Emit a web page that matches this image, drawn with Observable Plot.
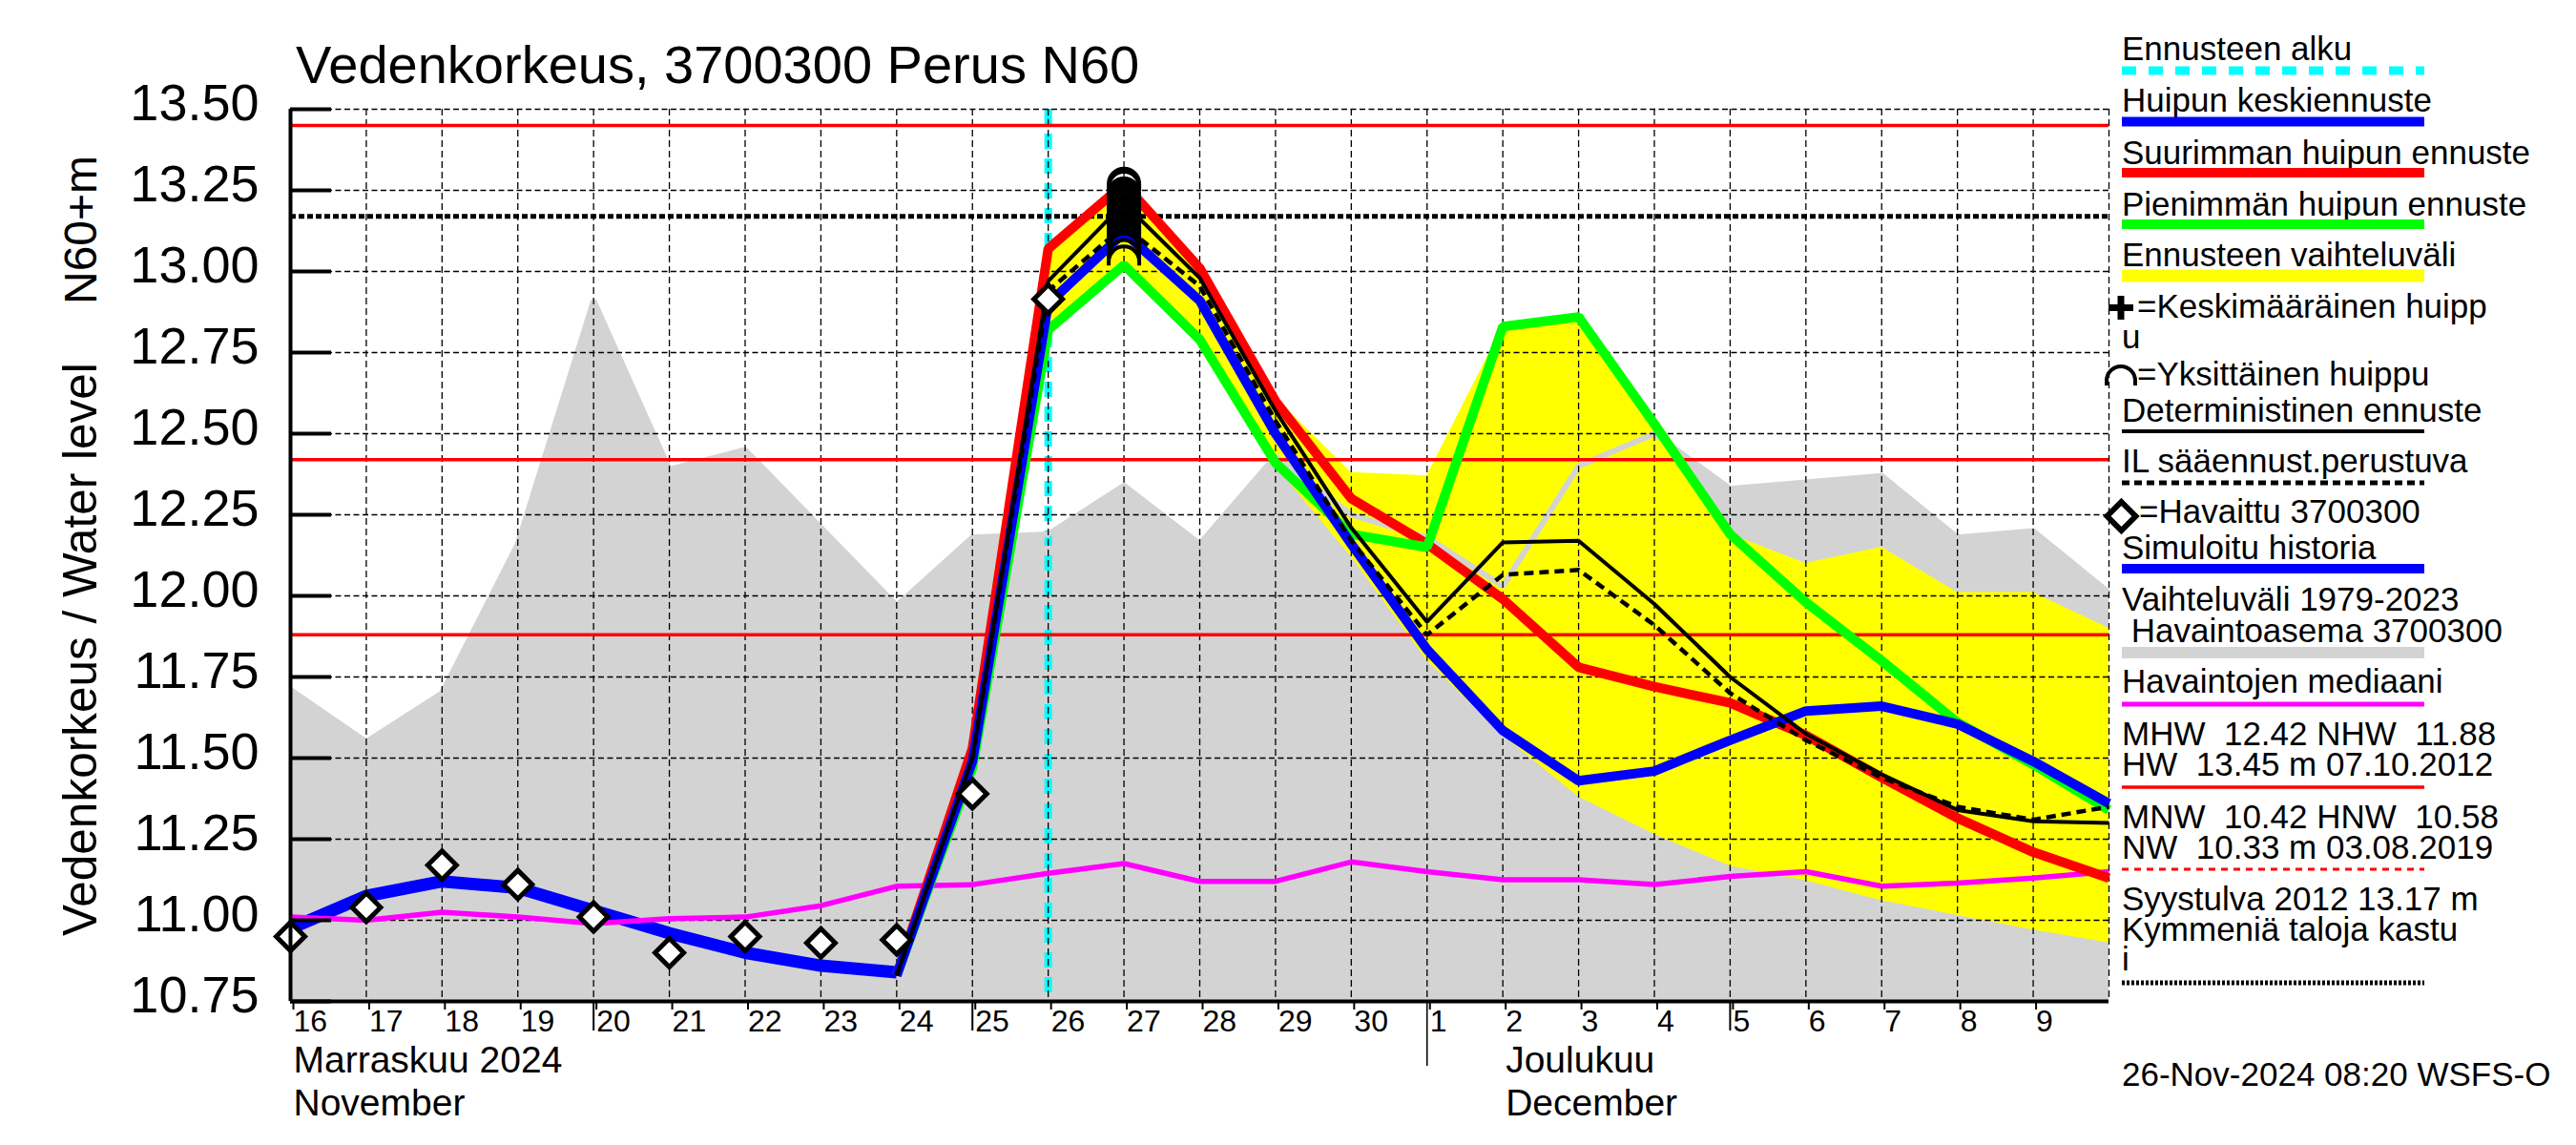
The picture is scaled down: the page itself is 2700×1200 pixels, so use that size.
<!DOCTYPE html>
<html><head><meta charset="utf-8">
<script src="https://cdn.jsdelivr.net/npm/d3@7"></script>
<script src="https://cdn.jsdelivr.net/npm/@observablehq/plot@0.6"></script>
<style>
html,body{margin:0;padding:0;background:#fff;}
#wrap{position:relative;width:2700px;height:1200px;overflow:hidden;background:#fff;}
#wrap > svg{position:absolute;left:0;top:0;}
</style></head>
<body><div id="wrap"></div>
<script>
// ---------- data ----------
const histDays = ["2024-11-16","2024-11-17","2024-11-18","2024-11-19","2024-11-20","2024-11-21","2024-11-22","2024-11-23","2024-11-24","2024-11-25","2024-11-26","2024-11-27","2024-11-28","2024-11-29","2024-11-30","2024-12-01","2024-12-02","2024-12-03","2024-12-04","2024-12-05","2024-12-06","2024-12-07","2024-12-08","2024-12-09","2024-12-10"];
const histMax = [11.71,11.55,11.70,12.16,12.91,12.39,12.45,12.21,11.97,12.18,12.19,12.34,12.16,12.43,12.25,12.18,12.03,12.40,12.50,12.33,12.35,12.37,12.18,12.20,12.01];
const median  = [11.01,11.00,11.025,11.01,10.99,11.005,11.01,11.045,11.105,11.11,11.145,11.175,11.12,11.12,11.18,11.15,11.125,11.125,11.11,11.135,11.15,11.105,11.115,11.13,11.15];

const simDays = ["2024-11-16","2024-11-17","2024-11-18","2024-11-19","2024-11-20","2024-11-21","2024-11-22","2024-11-23","2024-11-24"];
const simulated = [10.975,11.075,11.12,11.10,11.03,10.96,10.90,10.86,10.84];

const obsDays = ["2024-11-16","2024-11-17","2024-11-18","2024-11-19","2024-11-20","2024-11-21","2024-11-22","2024-11-23","2024-11-24","2024-11-25","2024-11-26"];
const observed = [10.95,11.04,11.17,11.11,11.01,10.90,10.95,10.93,10.94,11.39,12.915];

const fcDays = ["2024-11-24","2024-11-25","2024-11-26","2024-11-27","2024-11-28","2024-11-29","2024-11-30","2024-12-01","2024-12-02","2024-12-03","2024-12-04","2024-12-05","2024-12-06","2024-12-07","2024-12-08","2024-12-09","2024-12-10"];
const fcHigh  = [10.83,11.53,13.08,13.28,13.02,12.61,12.38,12.37,12.83,12.86,12.53,12.19,12.10,12.15,12.01,12.01,11.90];
const fcLow   = [10.83,11.47,12.81,13.01,12.78,12.40,12.12,11.80,11.57,11.38,11.265,11.167,11.122,11.06,11.015,10.97,10.93];
const peakMax = [10.83,11.53,13.07,13.27,13.01,12.60,12.30,12.16,11.99,11.78,11.72,11.67,11.57,11.44,11.315,11.21,11.13];
const peakMin = [10.83,11.47,12.82,13.02,12.79,12.41,12.19,12.15,12.83,12.86,12.53,12.19,11.98,11.80,11.61,11.48,11.34];
const peakMean= [10.83,11.49,12.90,13.12,12.91,12.50,12.16,11.835,11.585,11.43,11.46,11.555,11.645,11.66,11.605,11.49,11.36];
const deterministic = [10.83,11.50,12.97,13.21,12.98,12.57,12.21,11.92,12.165,12.17,11.975,11.75,11.575,11.45,11.34,11.305,11.30];
const ilForecast    = [10.83,11.50,12.94,13.14,12.955,12.54,12.17,11.88,12.065,12.08,11.91,11.70,11.555,11.44,11.35,11.31,11.35];

const peakDay = "2024-11-27";
const singlePeaks = [13.27,13.26,13.24,13.23,13.22,13.21,13.20,13.19,13.18,13.17,13.16,13.15,13.14,13.13,13.12,13.11,13.10,13.09,13.08,13.07,13.05,13.03];
const meanPeak = 13.15;

const forecastStart = "2024-11-26";
const redLevels = [13.45, 12.42, 11.88];   // HW, MHW, NHW
const syystulva = 13.17;

const yTicks = [10.75,11.00,11.25,11.50,11.75,12.00,12.25,12.50,12.75,13.00,13.25,13.50];
const gridLevels = [11.00,11.25,11.50,11.75,12.00,12.25,12.50,12.75,13.00,13.25,13.50];
const labelDays = histDays.slice(0, 24);           // 16 .. 9
const gridDays = histDays.slice(1);                 // 17 .. 10
const longTickDays = ["2024-11-20","2024-11-25","2024-12-05"];
const monthStartDays = ["2024-12-01"];
const monthLabels = [
  {date: "2024-11-16", label: "Marraskuu 2024\nNovember"},
  {date: "2024-12-02", label: "Joulukuu\nDecember"}
];

const titleText = "Vedenkorkeus, 3700300 Perus N60";
const yLabel1 = "Vedenkorkeus / Water level";
const yLabel2 = "N60+m";
const stamp = "26-Nov-2024 08:20 WSFS-O";

// ---------- build ----------
const D = s => new Date(s + "T00:00:00Z");
const FONT = "'Liberation Sans', Arial, Helvetica, sans-serif";
const W = 2700, H = 1200, mL = 304, mR = 490, mT = 114, mB = 151;
const plotW = W - mL - mR;

const hist = histDays.map((d, i) => ({date: D(d), max: histMax[i], med: median[i]}));
const sim = simDays.map((d, i) => ({date: D(d), v: simulated[i]}));
const obs = obsDays.map((d, i) => ({date: D(d), v: observed[i]}));
const fc = fcDays.map((d, i) => ({date: D(d), hi: fcHigh[i], lo: fcLow[i], mx: peakMax[i], mn: peakMin[i], me: peakMean[i], det: deterministic[i], il: ilForecast[i]}));
const peaks = singlePeaks.map(v => ({date: D(peakDay), v}));

const arcSymbol = {
  draw(ctx, size) {
    const r = Math.sqrt(size / Math.PI);
    ctx.moveTo(-r, r * 0.25);
    ctx.lineTo(-r, 0);
    ctx.arc(0, 0, r, Math.PI, 2 * Math.PI);
    ctx.lineTo(r, r * 0.25);
  }
};

const lineOpts = {x: "date", strokeLinejoin: "miter", strokeLinecap: "butt"};

const chart = Plot.plot({
  width: W, height: H,
  marginLeft: mL, marginRight: mR, marginTop: mT, marginBottom: mB,
  style: {fontFamily: FONT, background: "white", color: "black", overflow: "visible"},
  x: {type: "utc", domain: [D(histDays[0]), D(histDays[histDays.length - 1])], label: null},
  y: {domain: [10.75, 13.5], label: null},
  marks: [
    Plot.areaY(hist, {x: "date", y1: 10.75, y2: "max", fill: "#d3d3d3"}),
    Plot.ruleX([D(forecastStart)], {stroke: "#00ffff", strokeWidth: 8, strokeDasharray: "16,10"}),
    Plot.areaY(fc, {x: "date", y1: "lo", y2: "hi", fill: "#ffff00"}),
    Plot.lineY(hist, {...lineOpts, y: "max", stroke: "#d3d3d3", strokeWidth: 6}),
    Plot.gridX({ticks: gridDays.map(D), stroke: "#000", strokeOpacity: 1, strokeWidth: 1.3, strokeDasharray: "7,4"}),
    Plot.gridY({ticks: gridLevels, stroke: "#000", strokeOpacity: 1, strokeWidth: 1.3, strokeDasharray: "6,3.5"}),
    Plot.ruleY(redLevels, {stroke: "#ff0000", strokeWidth: 3.5}),
    Plot.ruleY([syystulva], {stroke: "#000", strokeWidth: 5, strokeDasharray: "6,3"}),
    Plot.lineY(sim, {...lineOpts, y: "v", stroke: "#0000ff", strokeWidth: 13}),
    Plot.lineY(hist, {...lineOpts, y: "med", stroke: "#ff00ff", strokeWidth: 5.5}),
    Plot.lineY(fc, {...lineOpts, y: "mx", stroke: "#ff0000", strokeWidth: 10}),
    Plot.lineY(fc, {...lineOpts, y: "mn", stroke: "#00ff00", strokeWidth: 10}),
    Plot.lineY(fc, {...lineOpts, y: "me", stroke: "#0000ff", strokeWidth: 10}),
    Plot.lineY(fc, {...lineOpts, y: "det", stroke: "#000", strokeWidth: 4}),
    Plot.lineY(fc, {...lineOpts, y: "il", stroke: "#000", strokeWidth: 4.5, strokeDasharray: "10,6"}),
    Plot.dot(obs, {x: "date", y: "v", symbol: "diamond2", r: 13.5, stroke: "#000", strokeWidth: 5, fill: "#fff"}),
    Plot.dot(peaks, {x: "date", y: "v", symbol: arcSymbol, r: 16, stroke: "#000", strokeWidth: 4, fill: "none"}),
    Plot.dot([{date: D(peakDay), v: meanPeak}], {x: "date", y: "v", symbol: "cross", r: 9, fill: "#000"}),
    Plot.ruleX([D(histDays[0])], {stroke: "#000", strokeWidth: 4}),
    Plot.ruleY([10.75], {stroke: "#000", strokeWidth: 4}),
    Plot.tickY(yTicks, {y: d => d, insetRight: plotW - 43, stroke: "#000", strokeWidth: 4}),
    Plot.axisY({ticks: yTicks, tickSize: 0, tickPadding: 33, tickFormat: d3.format(".2f"), fontSize: 54, dy: -6, label: null}),
    Plot.axisX({ticks: labelDays.map(D), tickSize: 9, tickPadding: 0, tickFormat: d => String(d.getUTCDate()), textAnchor: "start", dx: 3, fontSize: 32, strokeWidth: 2, label: null}),
    Plot.axisX({ticks: longTickDays.map(D), tickSize: 31, tickFormat: () => "", strokeWidth: 2, label: null}),
    Plot.axisX({ticks: monthStartDays.map(D), tickSize: 68, tickFormat: () => "", strokeWidth: 1.5, label: null}),
    Plot.text(monthLabels, {x: d => D(d.date), text: "label", frameAnchor: "bottom", lineAnchor: "top", textAnchor: "start", dx: 3, dy: 43, fontSize: 39, lineHeight: 1.15, fill: "#000"})
  ]
});
document.getElementById("wrap").appendChild(chart);

// ---------- overlay: title, y label, legend ----------
const ov = d3.select("#wrap").append("svg").attr("width", W).attr("height", H)
  .style("pointer-events", "none").attr("font-family", FONT).attr("fill", "#000");
function txt(x, y, s, size, extra) {
  const t = ov.append("text").attr("x", x).attr("y", y).attr("font-size", size).style("white-space", "pre").text(s);
  if (extra) extra(t);
  return t;
}
function swatch(y, color, w, dash) {
  ov.append("line").attr("x1", 2224).attr("x2", 2541).attr("y1", y).attr("y2", y)
    .attr("stroke", color).attr("stroke-width", w).attr("stroke-dasharray", dash || null);
}
txt(310, 87, titleText, 56);
txt(0, 0, yLabel1, 49.5, t => t.attr("transform", "translate(101,981) rotate(-90)"));
txt(0, 0, yLabel2, 48, t => t.attr("transform", "translate(101,319) rotate(-90)"));

const LX = 2224, FS = 35;
txt(LX, 63, "Ennusteen alku", FS);           swatch(74, "#00ffff", 9, "15,13");
txt(LX, 117, "Huipun keskiennuste", FS);     swatch(127.5, "#0000ff", 10);
txt(LX, 172, "Suurimman huipun ennuste", FS); swatch(181, "#ff0000", 10);
txt(LX, 226, "Pienimmän huipun ennuste", FS); swatch(235, "#00ff00", 10);
txt(LX, 279, "Ennusteen vaihteluväli", FS);  swatch(289, "#ffff00", 13);
// plus symbol
ov.append("path").attr("d", "M2210,319h26v7h-26z M2219.5,310h7v25h-7z").attr("fill", "#000");
txt(2240, 333, "=Keskimääräinen huipp", FS);
txt(LX, 365, "u", FS);
// arc symbol
ov.append("path").attr("d", "M2208,404 L2208,399 A15,15 0 0 1 2238,399 L2238,404").attr("fill", "none").attr("stroke", "#000").attr("stroke-width", 4);
txt(2240, 404, "=Yksittäinen huippu", FS);
txt(LX, 442, "Deterministinen ennuste", FS); swatch(452, "#000", 4);
txt(LX, 495, "IL sääennust.perustuva", FS);  swatch(506, "#000", 5, "8,5");
ov.append("path").attr("d", "M2223.5,526 L2238.5,541 L2223.5,556 L2208.5,541 Z").attr("fill", "#fff").attr("stroke", "#000").attr("stroke-width", 6);
txt(2242, 548, "=Havaittu 3700300", FS);
txt(LX, 586, "Simuloitu historia", FS);       swatch(596, "#0000ff", 10);
txt(LX, 640, "Vaihteluväli 1979-2023", FS);
txt(LX, 673, " Havaintoasema 3700300", FS);  swatch(684, "#d3d3d3", 12);
txt(LX, 726, "Havaintojen mediaani", FS);    swatch(738, "#ff00ff", 5);
txt(LX, 781, "MHW  12.42 NHW  11.88", FS);
txt(LX, 813, "HW  13.45 m 07.10.2012", FS);  swatch(825, "#ff0000", 3.5);
txt(LX, 868, "MNW  10.42 HNW  10.58", FS);
txt(LX, 900, "NW  10.33 m 03.08.2019", FS);  swatch(911, "#ff0000", 3, "7,6");
txt(LX, 954, "Syystulva 2012 13.17 m", FS);
txt(LX, 986, "Kymmeniä taloja kastu", FS);
txt(LX, 1017, "i", FS);                      swatch(1030, "#000", 5, "3,2");
txt(LX, 1138, stamp, FS);
</script></body></html>
